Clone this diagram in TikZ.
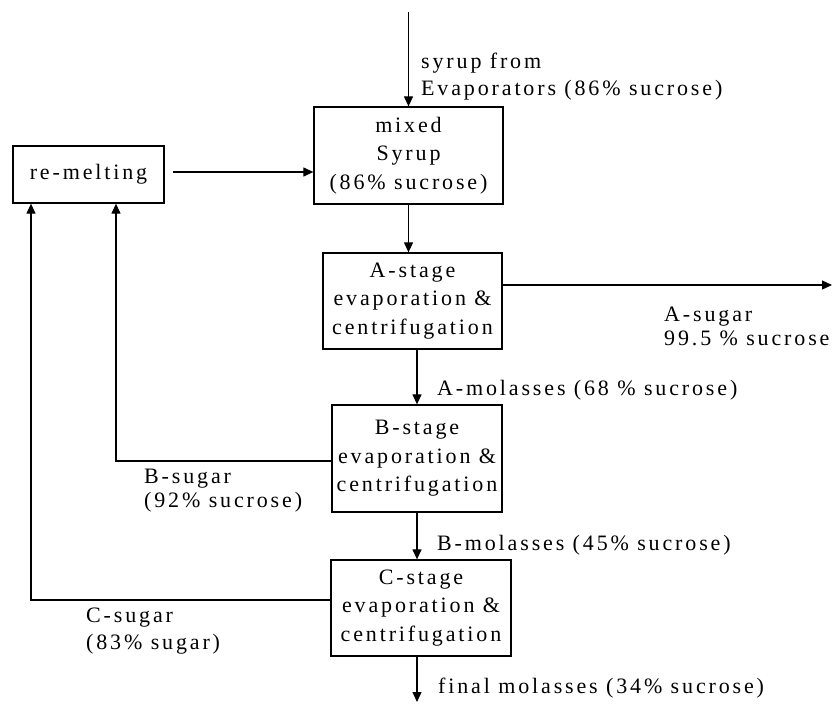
\documentclass[tikz,border=0pt]{standalone}
\usepackage{fontspec}
\setmainfont{Liberation Serif}[LetterSpace=13]
\usetikzlibrary{arrows.meta}
\begin{document}
\begin{tikzpicture}[x=1pt,y=-1pt,
  every node/.style={font=\fontsize{22}{28}\selectfont},
  stagebox/.style={draw,line width=1.3pt,inner sep=0pt,align=center,
    font=\fontsize{22}{28.5}\selectfont},
  lbl/.style={anchor=west,inner sep=0pt,align=left},
  flow/.style={line width=1.2pt,-{Triangle[length=10pt,width=9pt]}},
  pipe/.style={line width=1.2pt}]
\useasboundingbox (0,0) rectangle (835,713);

% process boxes
\node[stagebox,minimum width=151pt,minimum height=57pt] (remelt) at (88.5,174.5) {re-melting};
\node[stagebox,minimum width=189pt,minimum height=97pt] (mixed) at (408.5,155.5) {mixed\\Syrup\\(86\% sucrose)};
\node[stagebox,minimum width=179pt,minimum height=96pt] (A) at (412.5,301) {A-stage\\evaporation \&\\centrifugation};
\node[stagebox,minimum width=170pt,minimum height=107pt] (B) at (417,458.5) {B-stage\\evaporation \&\\centrifugation};
\node[stagebox,minimum width=180pt,minimum height=96pt] (C) at (421,608) {C-stage\\evaporation \&\\centrifugation};

% free ends of the streams
\coordinate (feed) at (408.5,12);
\coordinate (rmout) at (173,172);
\coordinate (Aout) at (A.east |- 0,285);
\coordinate (Asugar) at (832,285);
\coordinate (Bout) at (B.west |- 0,461);
\coordinate (Cout) at (C.west |- 0,600);
\coordinate (Bup) at (116,0);
\coordinate (Cup) at (31,0);
\coordinate (final) at (417,702);

% main stream
\draw[flow] (feed) -- (mixed.north);
\draw[flow] (rmout) -- (rmout -| mixed.west);
\draw[flow] (mixed.south) -- (mixed.south |- A.north);
\draw[flow] (Aout) -- (Asugar);
\draw[flow] (B.north |- A.south) -- (B.north);
\draw[flow] (B.south) -- (B.south |- C.north);
\draw[flow] (final |- C.south) -- (final);

% sugar recycled to re-melting
\draw[flow] (Bout) -- (Bout -| Bup) -- (Bup |- remelt.south);
\draw[flow] (Cout) -- (Cout -| Cup) -- (Cup |- remelt.south);

% stream labels
\node[lbl] (lfeed) at (421,76.5) {syrup from\\[-1pt]Evaporators (86\% sucrose)};
\node[lbl] (lAs) at (664,326) {A-sugar\\[-4pt]99.5 \% sucrose};
\node[lbl] (lAm) at (437,390) {A-molasses (68 \% sucrose)};
\node[lbl] (lBs) at (144,491) {B-sugar\\[-4pt](92\% sucrose)};
\node[lbl] (lBm) at (437,545) {B-molasses (45\% sucrose)};
\node[lbl] (lCs) at (86,631) {C-sugar\\[-1pt](83\% sugar)};
\node[lbl] (lfin) at (438,688) {final molasses (34\% sucrose)};
\end{tikzpicture}
\end{document}
